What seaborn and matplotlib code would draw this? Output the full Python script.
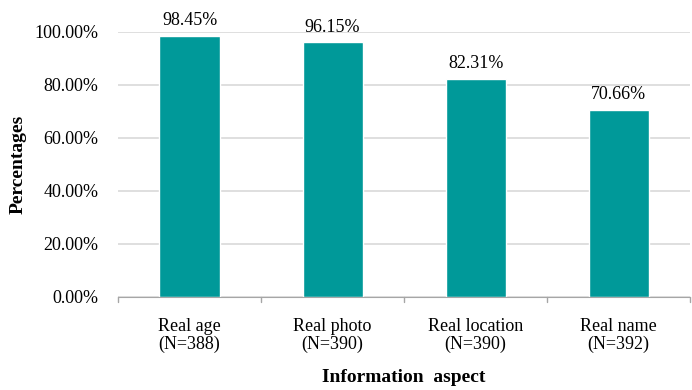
import matplotlib
matplotlib.use("Agg")
import matplotlib.pyplot as plt
import seaborn as sns
import pandas as pd

categories = ["Real age\n(N=388)", "Real photo\n(N=390)", "Real location\n(N=390)", "Real name\n(N=392)"]
values = [98.45, 96.15, 82.31, 70.66]
yticks = [0, 20, 40, 60, 80, 100]

sns.set_style("white")
plt.rcParams['font.family'] = ['Liberation Serif', 'DejaVu Serif']
plt.rcParams['text.color'] = 'black'
plt.rcParams['xtick.color'] = 'black'
plt.rcParams['ytick.color'] = 'black'
plt.rcParams['axes.labelcolor'] = 'black'

df = pd.DataFrame({"cat": categories, "val": values})

fig = plt.figure(figsize=(6.92, 3.90), dpi=100)
ax = fig.add_axes([0.1705, 0.2385, 0.827, 0.6795])
sns.barplot(data=df, x="cat", y="val", color="#009999", saturation=1, width=0.42, ax=ax)

ax.set_ylim(0, 100)
ax.set_xlim(-0.5, len(categories) - 0.5)
ax.set_yticks(yticks)
ax.set_yticklabels([f"{t:.2f}%" for t in yticks], fontsize=13)
ax.yaxis.grid(True, color="#d9d9d9", linewidth=1.2)
ax.set_axisbelow(True)
for s in ["top", "right", "left"]:
    ax.spines[s].set_visible(False)
ax.spines["bottom"].set_color("#a6a6a6")
ax.tick_params(axis="y", length=0, pad=14)
ax.set_xticks(range(len(categories)))
ax.set_xticklabels(categories, fontsize=13, linespacing=1.05)
ax.tick_params(axis="x", length=0, pad=15)
# boundary tick marks
for b in [-0.5, 0.5, 1.5, 2.5, 3.5]:
    ax.plot([b, b], [0, -2], color="#a6a6a6", lw=1, clip_on=False)

for i, v in enumerate(values):
    ax.text(i, v + 2.5, f"{v:.2f}%", ha="center", va="bottom", fontsize=13)

ax.set_xlabel("Information  aspect", fontsize=14, fontweight="bold", labelpad=12)
ax.set_ylabel("Percentages", fontsize=14, fontweight="bold", labelpad=6)

fig.savefig("out.png", dpi=100)
